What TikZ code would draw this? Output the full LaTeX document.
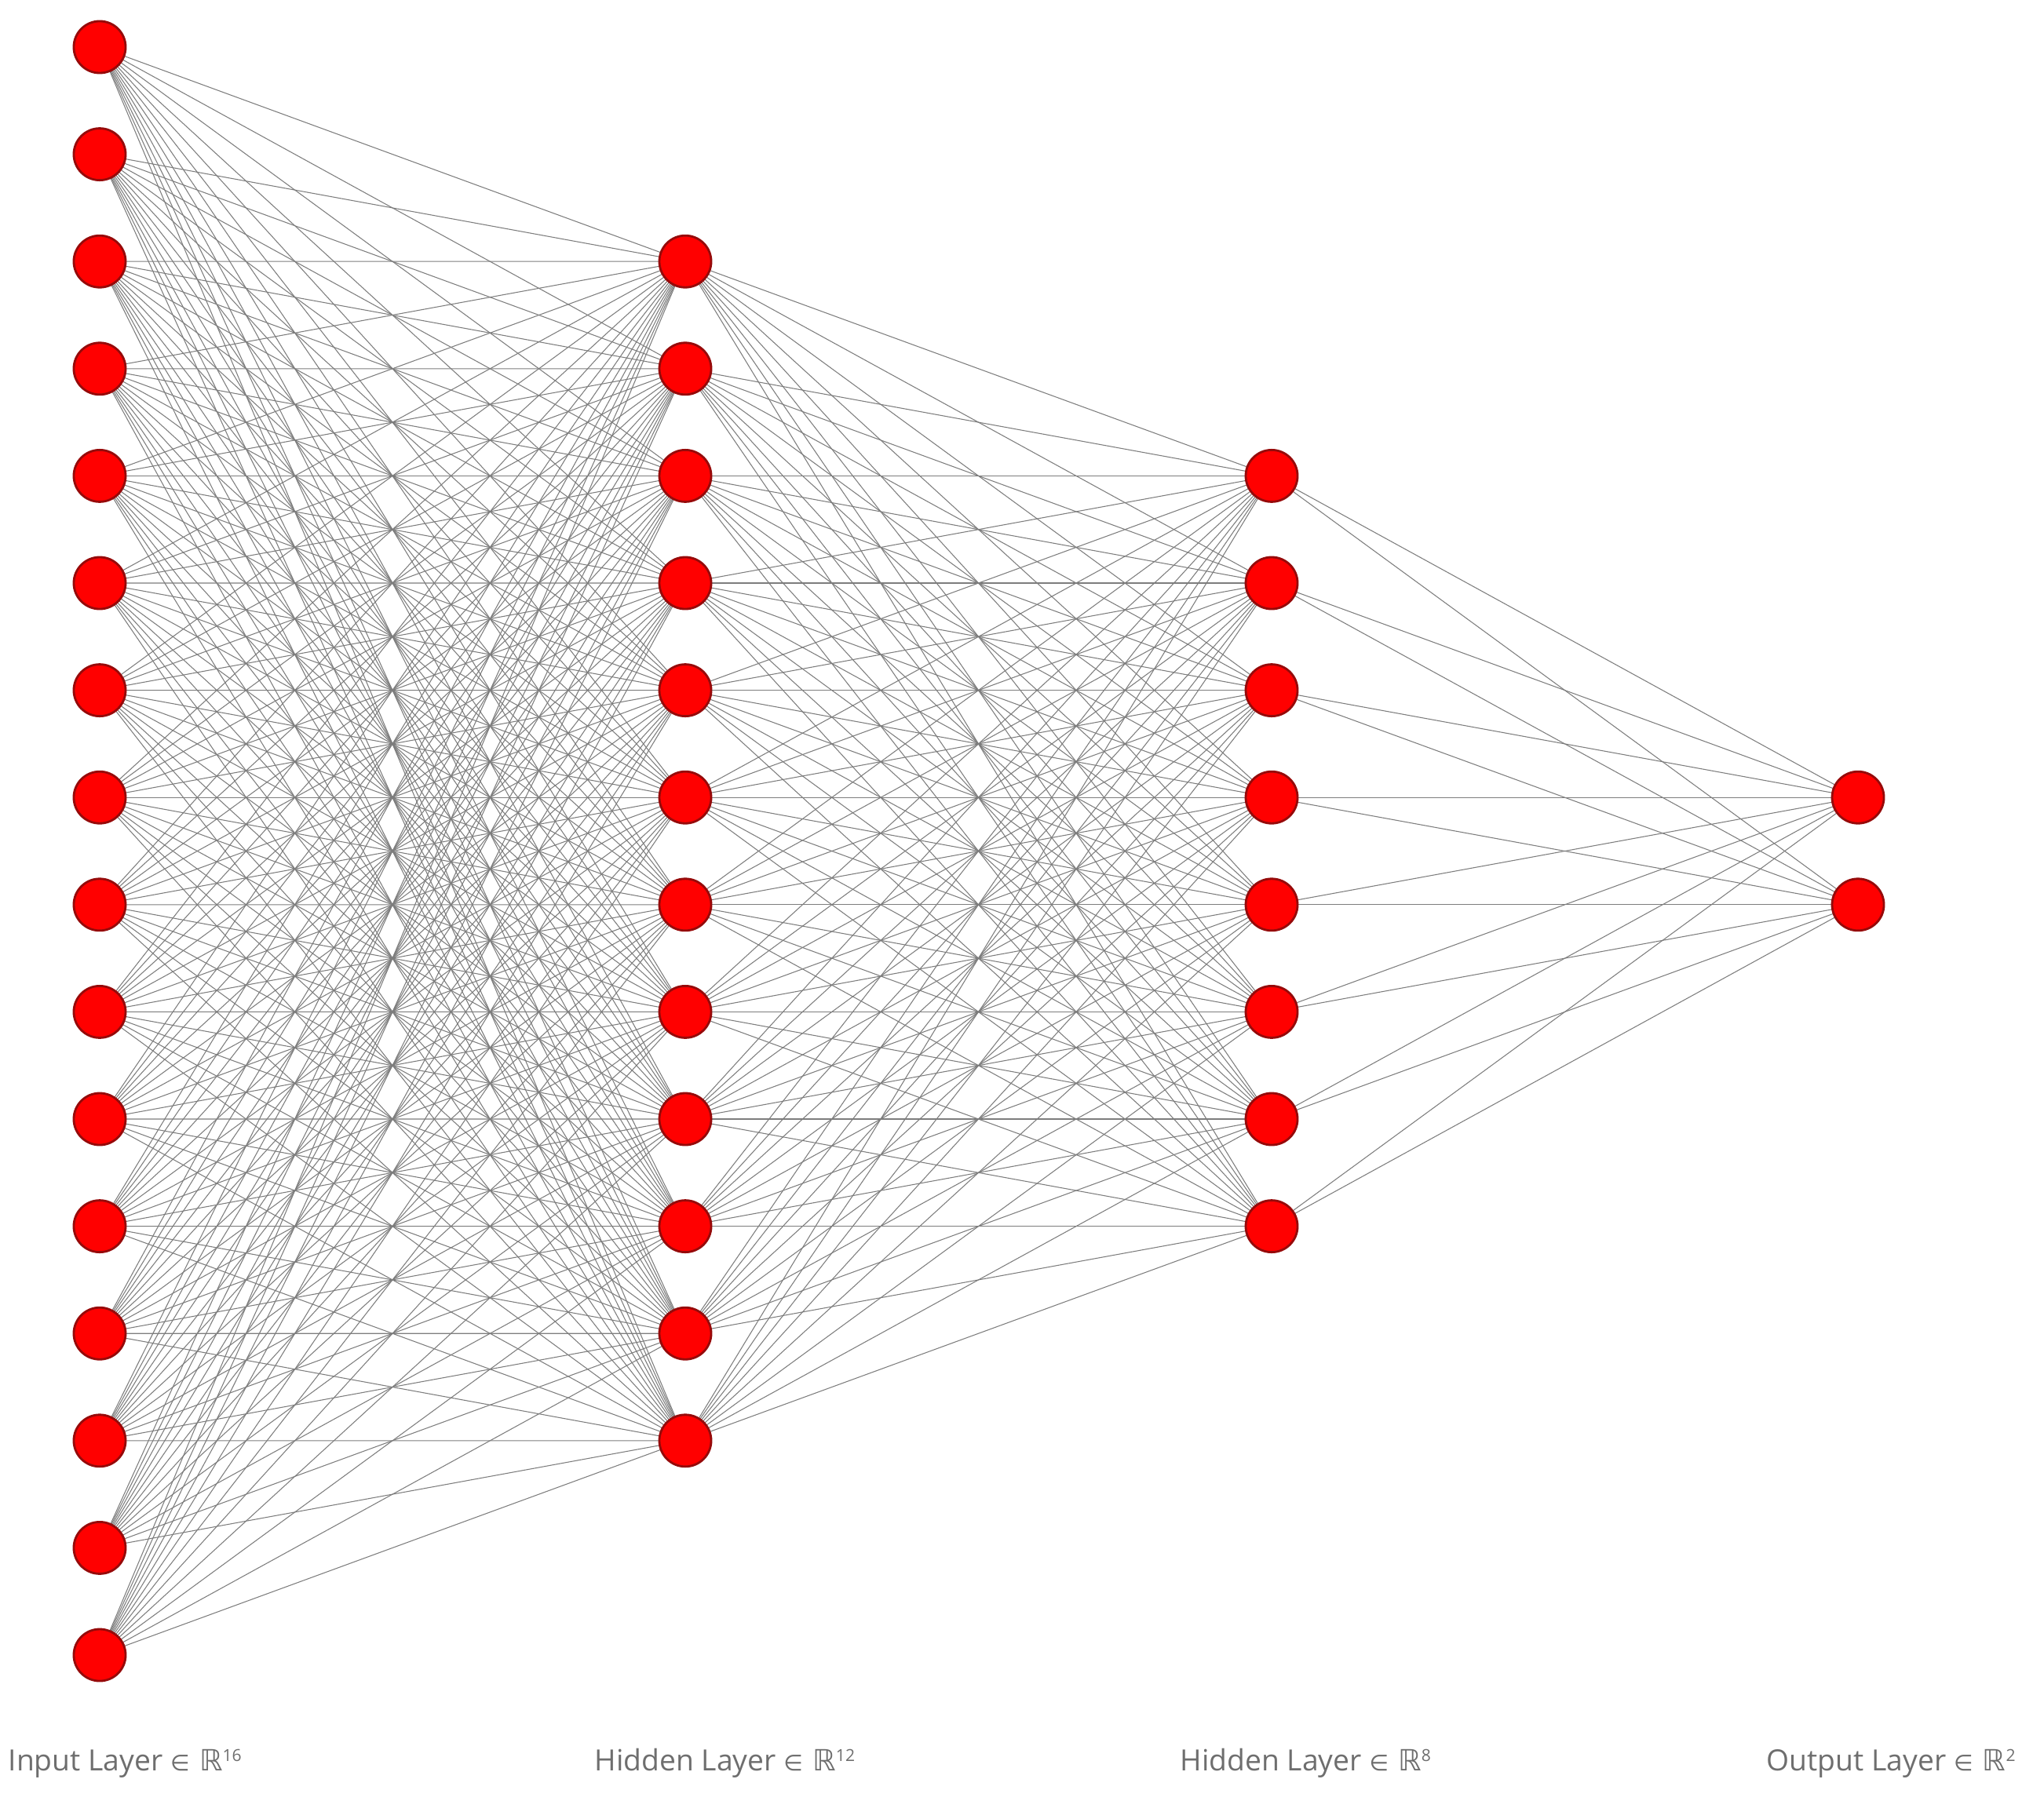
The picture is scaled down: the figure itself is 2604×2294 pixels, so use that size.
\documentclass[tikz,border=0pt]{standalone}
\usepackage{fontspec}
\setmainfont{Open Sans}
\newfontfamily\symfont{DejaVu Sans}
\definecolor{nodered}{RGB}{255,0,0}
\definecolor{noderim}{RGB}{150,10,10}
\definecolor{edgegray}{RGB}{125,125,125}
\definecolor{labelgray}{RGB}{110,110,110}
\pgfdeclarelayer{background}
\pgfsetlayers{background,main}
\tikzset{
  neuron/.style={circle, fill=nodered, draw=noderim, line width=0.8pt, minimum size=0.66cm, inner sep=0pt},
  synapse/.style={draw=edgegray, line width=0.3pt},
  layerlabel/.style={text=labelgray, font=\fontsize{10.6}{13}\selectfont, inner sep=0pt, anchor=west}
}
\newcommand{\layerdim}[1]{{\symfont\fontsize{8}{9}\selectfont ∈}\,\,{\symfont ℝ}\raisebox{0.6ex}{\fontsize{6}{7}\selectfont #1}}
\begin{document}
\begin{tikzpicture}[x=0.01cm, y=-0.01cm]
\useasboundingbox (0,0) rectangle (2604,2294);
% nodes
\foreach \k in {1,...,16} {
  \node[neuron] (i\k) at (127, {60+136.6*(\k-1)}) {};
}
\foreach \k in {1,...,12} {
  \node[neuron] (h\k) at (873, {1084.5+136.6*(\k-6.5)}) {};
}
\foreach \k in {1,...,8} {
  \node[neuron] (g\k) at (1620, {1084.5+136.6*(\k-4.5)}) {};
}
\foreach \k in {1,2} {
  \node[neuron] (o\k) at (2367, {1084.5+136.6*(\k-1.5)}) {};
}
% connectors
\begin{pgfonlayer}{background}
\foreach \a in {1,...,16} { \foreach \b in {1,...,12} { \draw[synapse] (i\a.center) -- (h\b.center); } }
\foreach \a in {1,...,12} { \foreach \b in {1,...,8} { \draw[synapse] (h\a.center) -- (g\b.center); } }
\foreach \a in {1,...,8} { \foreach \b in {1,2} { \draw[synapse] (g\a.center) -- (o\b.center); } }
\end{pgfonlayer}
% labels
\node[layerlabel] (l1) at (10, 2247) {Input Layer \layerdim{16}};
\node[layerlabel] (l2) at (757, 2247) {Hidden Layer \layerdim{12}};
\node[layerlabel] (l3) at (1503, 2247) {Hidden Layer \layerdim{8}};
\node[layerlabel] (l4) at (2250, 2247) {Output Layer \layerdim{2}};
\end{tikzpicture}
\end{document}
